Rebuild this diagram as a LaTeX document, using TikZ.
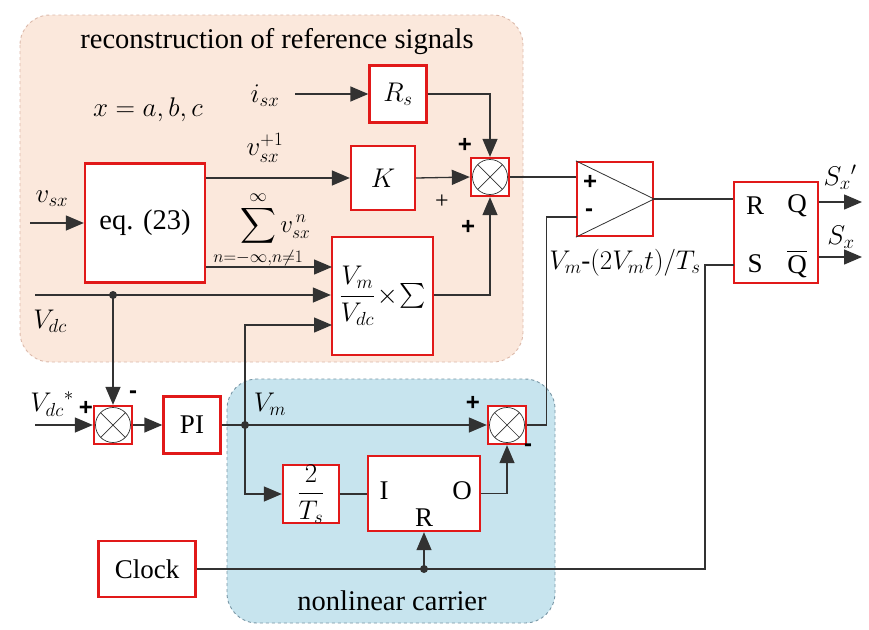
\RequirePackage{fix-cm}
\documentclass[tikz,border=0pt]{standalone}
\usepackage{amsmath}
\usepackage{fontspec}
\setmainfont{Liberation Serif}
\newfontfamily\signfont{Liberation Sans}
\usetikzlibrary{arrows.meta}
\definecolor{redb}{RGB}{225,25,25}
\definecolor{conn}{RGB}{50,50,50}
\definecolor{peach}{RGB}{251,232,220}
\definecolor{peachb}{RGB}{220,185,170}
\definecolor{bluef}{RGB}{199,228,238}
\definecolor{blueb}{RGB}{120,150,165}
\begin{document}
\begin{tikzpicture}[x=1pt,y=-1pt,
  every node/.style={font=\fontsize{27}{32}\selectfont, text=black},
  blk/.style={draw=redb, line width=2.3pt, fill=white, inner sep=0pt},
  sumj/.style={blk, minimum width=38pt, minimum height=38pt,
    path picture={
      \draw[line width=0.7pt, conn] (path picture bounding box.center) circle (17.5pt);
      \draw[line width=0.7pt, conn] ([shift={(-12.4pt,-12.4pt)}]path picture bounding box.center) -- ([shift={(12.4pt,12.4pt)}]path picture bounding box.center);
      \draw[line width=0.7pt, conn] ([shift={(-12.4pt,12.4pt)}]path picture bounding box.center) -- ([shift={(12.4pt,-12.4pt)}]path picture bounding box.center);
    }},
  con/.style={draw=conn, line width=1.3pt},
  arr/.style={con, -{Triangle[length=18pt,width=15pt]}},
  sgn/.style={font=\fontsize{24}{28}\signfont\bfseries, inner sep=0pt},
  thinsgn/.style={font=\fontsize{24}{28}\selectfont, inner sep=0pt},
  region/.style={dashed, line width=0.9pt, rounded corners=30pt},
  dotc/.style={fill=conn}
]
\useasboundingbox (0,0) rectangle (869,629);
% regions
\draw[region, draw=peachb, fill=peach] (20,15) rectangle (523,362);
\draw[region, draw=blueb, fill=bluef] (227,379) rectangle (555,623);
\node[font=\fontsize{28.5}{33}\selectfont] (title) at (277,42) {reconstruction of reference signals};
\node[font=\fontsize{28.5}{33}\selectfont] (carrier) at (392,601) {nonlinear carrier};
\node (xabc) at (148,110) {$x=a,b,c$};

% blocks
\node[blk, minimum width=57pt, minimum height=57pt] (Rs) at (398,94) {$R_s$};
\node[sumj] (sum1) at (490,177) {};
\node[blk, minimum width=120pt, minimum height=119pt, font=\fontsize{28.5}{34}\selectfont] (eq) at (145,223) {eq. (23)};
\node[blk, minimum width=64pt, minimum height=64pt] (K) at (383,178) {$K$};
\node[blk, minimum width=101pt, minimum height=118pt] (SB) at (382.5,296) {$\dfrac{V_m}{V_{dc}}\!\times\!\sum$};
\node[blk, minimum width=76pt, minimum height=74pt] (cmp) at (615,199) {};
\draw[line width=0.8pt, conn] (cmp.north west) -- (cmp.east) -- (cmp.south west);
\node[sgn] (cmpp) at (590,182) {+};
\node[sgn] (cmpm) at (589,213) {-};
\node[blk, minimum width=84pt, minimum height=101pt] (RS) at (776,232.5) {};
\node (lR) at (755,206) {R};
\node (lQ) at (797,206) {Q};
\node (lS) at (755,264) {S};
\node (lQb) at (797,264) {$\overline{\hbox{Q}}$};
\node[sumj] (sum3) at (113,425) {};
\node[blk, minimum width=57pt, minimum height=57pt] (PI) at (192,425) {PI};
\node[sumj] (sum4) at (507,425) {};
\node[blk, minimum width=56pt, minimum height=56pt] (Ts) at (311,494) {$\dfrac{2}{T_s}$};
\node[blk, minimum width=112pt, minimum height=75pt] (IRO) at (424,493.5) {};
\node (lI) at (384,491) {I};
\node (lO) at (462,491) {O};
\node (lRR) at (424,518) {R};
\node[blk, minimum width=97pt, minimum height=56pt] (Clock) at (147,569) {Clock};

% labels
\node (lisx) at (265,96) {$i_{sx}$};
\node (lvsx) at (52,199) {$v_{sx}$};
\node[inner sep=1pt] (lvp) at (265,148) {$v_{sx}^{+1}$};
\node[inner sep=0pt, anchor=west, font=\fontsize{25}{30}\selectfont] (lsig) at (240,230) {$\displaystyle\sum_{\makebox[0pt]{$\scriptstyle n=-\infty,n\neq1$}}^{\infty} v_{sx}^{\,n}$};
\node (lvdc) at (50,321) {$V_{dc}$};
\node (lvdcs) at (52,404) {${V_{dc}}^{*}$};
\node (lvm) at (270,404) {$V_m$};
\node (lcar) at (625,263) {$V_m$-$(2V_mt)/T_s$};
\node (lSxp) at (840,177) {$S_x{}'$};
\node (lSx) at (841,237) {$S_x$};
\node[sgn] (p1) at (465,145) {+};
\node[thinsgn] (p2) at (442,202) {+};
\node[sgn] (p3) at (468,227) {+};
\node[sgn] (p4) at (86,408) {+};
\node[sgn] (m4) at (133,395) {-};
\node[sgn] (p5) at (473,403) {+};
\node[sgn] (m5) at (528,448) {-};

% coordinates
\coordinate (isxin) at (295,94);
\coordinate (vsxin) at (30,223);
\coordinate (vdcin) at (35,295);
\coordinate (vdcdot) at (113,295);
\coordinate (vdcsin) at (35,425);
\coordinate (vmdot) at (245,425);
\coordinate (clkdot) at (424,569);
\coordinate (sbin1) at (332,267);
\coordinate (sbin3) at (332,325);
\coordinate (cmpin) at (577,217);
\coordinate (rsS) at (734,265);
\coordinate (Qo) at (862,202);
\coordinate (Qbo) at (862,257);

% connectors
\draw[arr] (isxin) -- (Rs.west);
\draw[arr] (Rs.east) -| (sum1.north);
\draw[arr] (eq.east |- K.west) -- (K.west);
\draw[arr] (K.east) -- (sum1.west);
\draw[arr] (vsxin) -- (eq.west);
\draw[arr] (eq.east |- sbin1) -- (sbin1);
\draw[con] (vdcin) -- (vdcdot);
\draw[arr] (vdcdot) -- (SB.west |- vdcdot);
\draw[arr] (vdcdot) -- (sum3.north);
\draw[arr] (vmdot) |- (sbin3);
\draw[arr] (SB.east |- vdcdot) -| (sum1.south);
\draw[con] (sum1.east) -- (cmp.west |- sum1.east);
\draw[con] (cmp.east) -- (RS.west |- cmp.east);
\draw[arr] (vdcsin) -- (sum3.west);
\draw[arr] (sum3.east) -- (PI.west);
\draw[con] (PI.east) -- (vmdot);
\draw[arr] (vmdot) -- (sum4.west);
\draw[arr] (vmdot) |- (Ts.west);
\draw[con] (Ts.east) -- (IRO.west |- Ts.east);
\draw[arr] (IRO.east) -| (sum4.south);
\draw[con] (sum4.east) -- ++(19,0) |- (cmpin);
\draw[con] (Clock.east) -- (clkdot) -- ++(281,0) |- (rsS);
\draw[arr] (clkdot) -- (IRO.south);
\draw[arr] (RS.east |- Qo) -- (Qo);
\draw[arr] (RS.east |- Qbo) -- (Qbo);
\fill[dotc] (vdcdot) circle (4pt);
\fill[dotc] (vmdot) circle (4pt);
\fill[dotc] (clkdot) circle (4pt);
\end{tikzpicture}
\end{document}
